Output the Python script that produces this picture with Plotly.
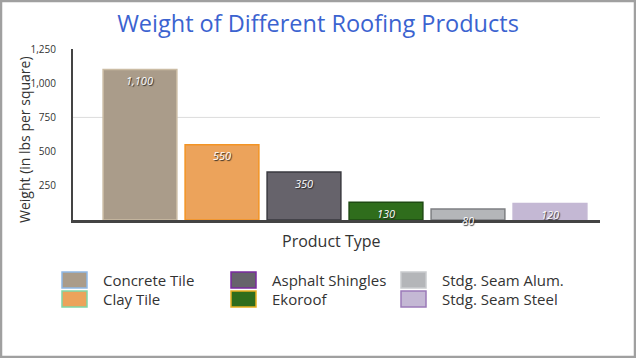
import plotly.graph_objects as go

categories = ["Concrete Tile", "Clay Tile", "Asphalt Shingles", "Ekoroof",
              "Stdg. Seam Alum.", "Stdg. Seam Steel"]
weights = [1100, 550, 350, 130, 80, 120]
value_labels = ["1,100", "550", "350", "130", "80", "120"]
y_ticks = [250, 500, 750, 1000, 1250]
y_tick_labels = ["250", "500", "750", "1,000", "1,250"]

fills = ["#aa9c8a", "#eca35b", "#66636b", "#2f6d1c", "#b4b6b9", "#c4b8d4"]
edges = ["#cbbca4", "#f39424", "#3a3a40", "#1e4a12", "#7d7f82", "#c4b8d4"]
legend_edges = ["#8fb8e6", "#7fd6a6", "#7a2aa0", "#e8b020", "#c9cbce", "#9a7ab8"]

W, H = 636, 358
L, R, T, B = 73, 600, 49, 220

def px(x):
    return (x - L) / (R - L)

def py(y):
    return (B - y) / (B - T)

fig = go.Figure()
fig.add_trace(go.Bar(
    x=categories, y=weights, width=0.9,
    marker=dict(color=fills, line=dict(color=edges, width=1.5)),
    showlegend=False, hoverinfo="skip",
))

for c, v, t in zip(categories, weights, value_labels):
    fig.add_annotation(x=c, y=v, xref="x", yref="y", text=t, showarrow=False,
                       yshift=-11,
                       font=dict(family="Open Sans", size=11, color="white",
                                 style="italic", shadow="1px 1px 1px #222"))

shapes = []
# single light gridline at 750
shapes.append(dict(type="line", xref="paper", yref="y", x0=0, x1=1, y0=750, y1=750,
                   line=dict(color="#dcdcdc", width=1), layer="below"))
# outer frame
shapes.append(dict(type="rect", xref="paper", yref="paper",
                   x0=px(1), x1=px(W - 1), y0=py(H - 1), y1=py(1),
                   line=dict(color="#a0a0a0", width=2.5), layer="above"))

# legend (column-major, 3 columns x 2 rows)
col_x = [62, 231, 401]
row_y = [280, 299]
for i, name in enumerate(categories):
    col, row = i // 2, i % 2
    x0 = col_x[col]
    yc = row_y[row]
    shapes.append(dict(type="rect", xref="paper", yref="paper",
                       x0=px(x0), x1=px(x0 + 25), y0=py(yc + 8), y1=py(yc - 8),
                       fillcolor=fills[i], line=dict(color=legend_edges[i], width=1.5)))
    fig.add_annotation(x=px(x0 + 39), y=py(yc), xref="paper", yref="paper",
                       text=name, showarrow=False, xanchor="left", yanchor="middle",
                       font=dict(family="Open Sans", size=15, color="#333333"))

# axis titles
fig.add_annotation(x=px(331), y=py(241), xref="paper", yref="paper",
                   text="Product Type", showarrow=False, xanchor="center", yanchor="middle",
                   font=dict(family="Open Sans", size=16, color="#333333"))
fig.add_annotation(x=px(24), y=py(140), xref="paper", yref="paper",
                   text="Weight (in lbs per square)", showarrow=False, textangle=-90,
                   xanchor="center", yanchor="middle",
                   font=dict(family="Open Sans", size=14, color="#333333"))

fig.update_layout(
    width=W, height=H,
    margin=dict(l=L, r=W - R, t=T, b=H - B),
    paper_bgcolor="white", plot_bgcolor="white",
    title=dict(text="Weight of Different Roofing Products", x=0.5, xref="container",
               xanchor="center", y=1 - 24 / H, yanchor="middle",
               font=dict(family="Open Sans", size=23.5, color="#3b63d0")),
    shapes=shapes,
    showlegend=False,
    xaxis=dict(range=[-0.817, 5.61], showticklabels=False, ticks="",
               showgrid=False, zeroline=False, showline=True,
               linecolor="#444444", linewidth=2.5),
    yaxis=dict(range=[0, 1250], tickvals=y_ticks, ticktext=y_tick_labels,
               showgrid=False, zeroline=False, showline=True,
               linecolor="#444444", linewidth=2, ticks="",
               ticklabelstandoff=13,
               tickfont=dict(family="Open Sans", size=10, color="#333333")),
)

fig.write_html("out.html")
